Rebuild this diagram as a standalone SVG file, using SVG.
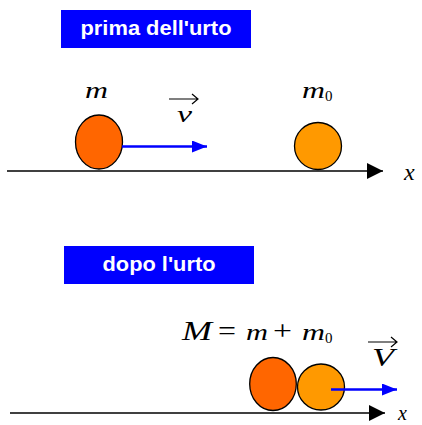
<svg xmlns="http://www.w3.org/2000/svg" width="422" height="425" viewBox="0 0 422 425">
<style>
.box{fill:#0000FF}
.title{fill:#fff;font-family:"Liberation Sans",Arial,sans-serif;font-size:21px;font-weight:bold;text-anchor:middle}
.math{font-family:"Liberation Serif","Times New Roman",serif;font-style:italic;fill:#000}
.mathr{font-family:"Liberation Serif","Times New Roman",serif;fill:#000}
.axis{stroke:#000;stroke-width:1.5;fill:none}
.vel{stroke:#0000FF;stroke-width:2.5;fill:none}
.ball{stroke:#000;stroke-width:1.3}
.vecbar{stroke:#000;stroke-width:1.2;fill:none}
</style>
<defs>
<marker id="ax" markerWidth="16" markerHeight="16" refX="16" refY="8" orient="auto" markerUnits="userSpaceOnUse"><path d="M0,0 L16,8 L0,16 Z" fill="#000"/></marker>
<marker id="bl" markerWidth="15" markerHeight="12" refX="15" refY="6" orient="auto" markerUnits="userSpaceOnUse"><path d="M0,0 L15,6 L0,12 Z" fill="#0000FF"/></marker>
</defs>
<g id="title-before"><rect class="box" x="61" y="10" width="190" height="38"/><text class="title" x="156" y="35" textLength="151" lengthAdjust="spacingAndGlyphs">prima dell'urto</text></g>
<g id="title-after"><rect class="box" x="64" y="246" width="190" height="38"/><text class="title" x="159" y="271" textLength="113" lengthAdjust="spacingAndGlyphs">dopo l'urto</text></g>
<g id="connectors">
<line class="axis" x1="7" y1="171" x2="383" y2="171" marker-end="url(#ax)"/>
<line class="axis" x1="10" y1="413" x2="385" y2="413" marker-end="url(#ax)"/>
</g>
<g id="ball-m"><ellipse class="ball" cx="99" cy="142" rx="23.5" ry="27" fill="#FF6600"/></g>
<g id="vel-v"><line class="vel" x1="122" y1="146.5" x2="207" y2="146.5" marker-end="url(#bl)"/></g>
<g id="ball-m0"><ellipse class="ball" cx="318" cy="146" rx="23.5" ry="23.5" fill="#FF9900"/></g>
<g id="label-m"><text class="math" x="85" y="98" font-size="23" textLength="23" lengthAdjust="spacingAndGlyphs">m</text></g>
<g id="label-v">
<path class="vecbar" d="M169,99 H198 M192,94 L198,99 L192,104"/>
<text class="math" x="177" y="122" font-size="24" textLength="15" lengthAdjust="spacingAndGlyphs">v</text>
</g>
<g id="label-m0"><text class="math" x="302" y="98" font-size="23" textLength="23" lengthAdjust="spacingAndGlyphs">m</text><text class="mathr" x="325" y="101" font-size="15">0</text></g>
<g id="label-x1"><text class="math" x="404" y="180" font-size="24">x</text></g>
<g id="ball-merged">
<ellipse class="ball" cx="273" cy="384" rx="23.3" ry="26.5" fill="#FF6600"/>
<ellipse class="ball" cx="321" cy="387" rx="23.5" ry="23" fill="#FF9900"/>
</g>
<g id="vel-V"><line class="vel" x1="331" y1="389.5" x2="397" y2="389.5" marker-end="url(#bl)"/></g>
<g id="label-M">
<text class="math" x="182" y="340" font-size="27" textLength="30" lengthAdjust="spacingAndGlyphs">M</text>
<text class="mathr" x="218" y="340" font-size="27" textLength="18" lengthAdjust="spacingAndGlyphs">=</text>
<text class="math" x="246" y="340" font-size="23" textLength="22" lengthAdjust="spacingAndGlyphs">m</text>
<text class="mathr" x="273" y="340" font-size="27" textLength="19" lengthAdjust="spacingAndGlyphs">+</text>
<text class="math" x="302" y="340" font-size="23" textLength="23" lengthAdjust="spacingAndGlyphs">m</text>
<text class="mathr" x="325" y="343" font-size="15">0</text>
</g>
<g id="label-V">
<path class="vecbar" d="M368,342 H397 M391,337 L397,342 L391,347"/>
<text class="math" x="372" y="366" font-size="25" textLength="22" lengthAdjust="spacingAndGlyphs">V</text>
</g>
<g id="label-x2"><text class="math" x="398" y="420" font-size="20">x</text></g>
</svg>
